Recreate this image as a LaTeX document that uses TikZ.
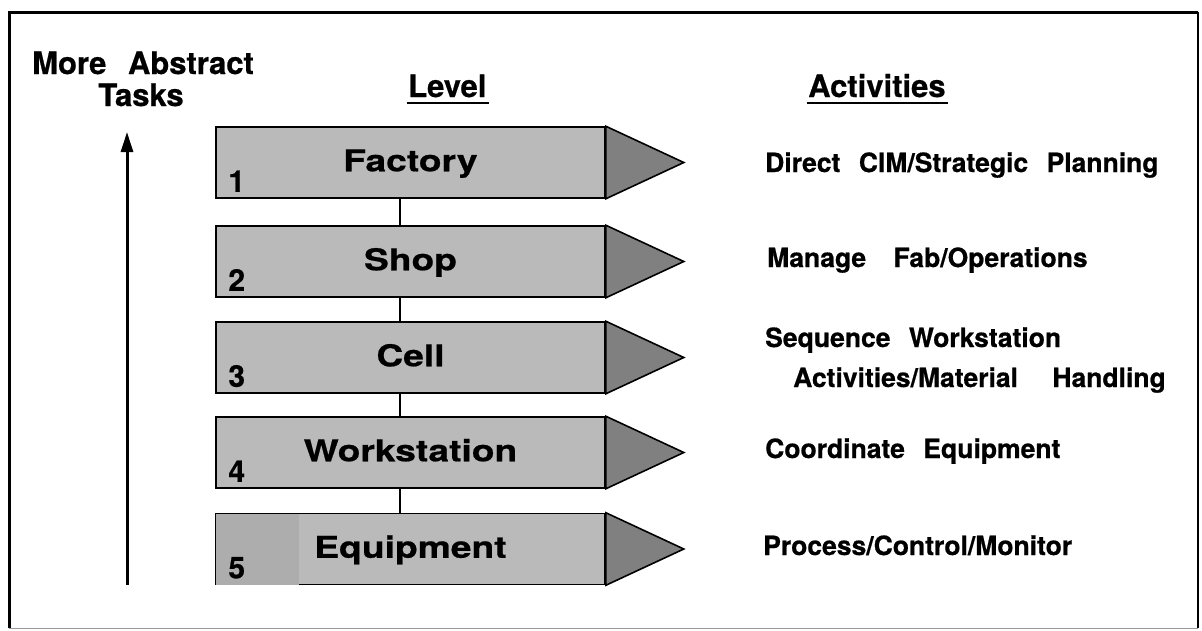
\documentclass[tikz,border=0pt]{standalone}
\usepackage{fontspec}
\setmainfont{TeX Gyre Heros}[BoldFeatures = {FakeBold = 0.6}]
\newfontfamily\levelfont{TeX Gyre Heros}[FakeStretch = 1.24, BoldFeatures = {FakeBold = 0.6}]
\newfontfamily\spacedfont{TeX Gyre Heros}[WordSpace = 2.5, BoldFeatures = {FakeBold = 0.6}]
\usetikzlibrary{arrows.meta}

\tikzset{
  levelbox/.style={draw, line width=1.6pt, fill=black!27, minimum width=389pt, minimum height=71pt,
    inner sep=0pt, text height=21.5pt, text depth=4pt,
    font=\levelfont\bfseries\fontsize{30}{30}\selectfont},
  leveltip/.style={draw, line width=1.6pt, fill=black!50},
  levelnum/.style={inner sep=0pt, anchor=base west, font=\bfseries\fontsize{30}{30}\selectfont},
  heading/.style={inner sep=0pt, anchor=base west, font=\spacedfont\bfseries\fontsize{31}{31}\selectfont},
  activity/.style={inner sep=0pt, anchor=base west, font=\spacedfont\bfseries\fontsize{26.5}{26.5}\selectfont}
}

\begin{document}
\begin{tikzpicture}[x = 1pt, y = -1pt]
	\useasboundingbox (0, 0) rectangle (1202, 630);
	\draw[line width = 3pt] (9, 628) -- (9, 12) -- (1198, 12);
	\draw[line width = 2pt] (1198, 12) -- (1198, 628);
	\draw[line width = 1pt, black!40] (9, 628) -- (1198, 628);

	\node[heading] (more) at (32, 74) {More Abstract};
	\node[heading, anchor = base] (tasks) at (141, 106) {Tasks};
	\coordinate (low) at (127, 585);
	\coordinate (high) at (127, 132);
	\draw[line width = 3pt, -{Triangle[length = 20pt, width = 12pt]}] (low) -- (high);

	\node[heading] (level) at (408, 97) {Level};
	\node[heading] (activities) at (808, 97) {Activities};
	\foreach \h in {level, activities}
		\draw[line width = 2.5pt] ([xshift = -1pt, yshift = -6pt]\h.base west) -- ([xshift = 2pt, yshift = -6pt]\h.base east);

	\foreach \name/\lbl/\y in {factory/Factory/162.5, shop/Shop/261.5, cell/Cell/357.5, workstation/Workstation/452.5, equipment/Equipment/549} {
		\node[levelbox] (\name) at (410.5, \y) {\lbl};
		\filldraw[leveltip] (\name.north east) -- ([xshift = 78pt]\name.east) -- (\name.south east) -- cycle;
	}
	\fill[black!32] ([xshift = 0.8pt, yshift = 0.8pt]equipment.south west) rectangle ([xshift = 84pt, yshift = -0.8pt]equipment.north west);
	\foreach \name/\num in {factory/1, shop/2, cell/3, workstation/4, equipment/5}
		\node[levelnum] (num\num) at ([xshift = 13pt, yshift = 7pt]\name.south west) {\num};
	\foreach \a/\b in {factory/shop, shop/cell, cell/workstation, workstation/equipment}
		\draw[line width = 2pt] ([xshift = -10.5pt]\a.south) -- ([xshift = -10.5pt]\b.north);

	\node[activity] (direct) at (765, 172) {Direct CIM/Strategic Planning};
	\node[activity] (manage) at (767, 267) {Manage\hspace{9pt} Fab/Operations};
	\node[activity] (sequence) at (765, 347) {Sequence Workstation};
	\node[activity] (handling) at (793, 387) {Activities/Material\hspace{16pt} Handling};
	\node[activity] (coordinate) at (765, 458) {Coordinate Equipment};
	\node[activity] (process) at (763, 555) {Process/Control/Monitor};
\end{tikzpicture}
\end{document}
